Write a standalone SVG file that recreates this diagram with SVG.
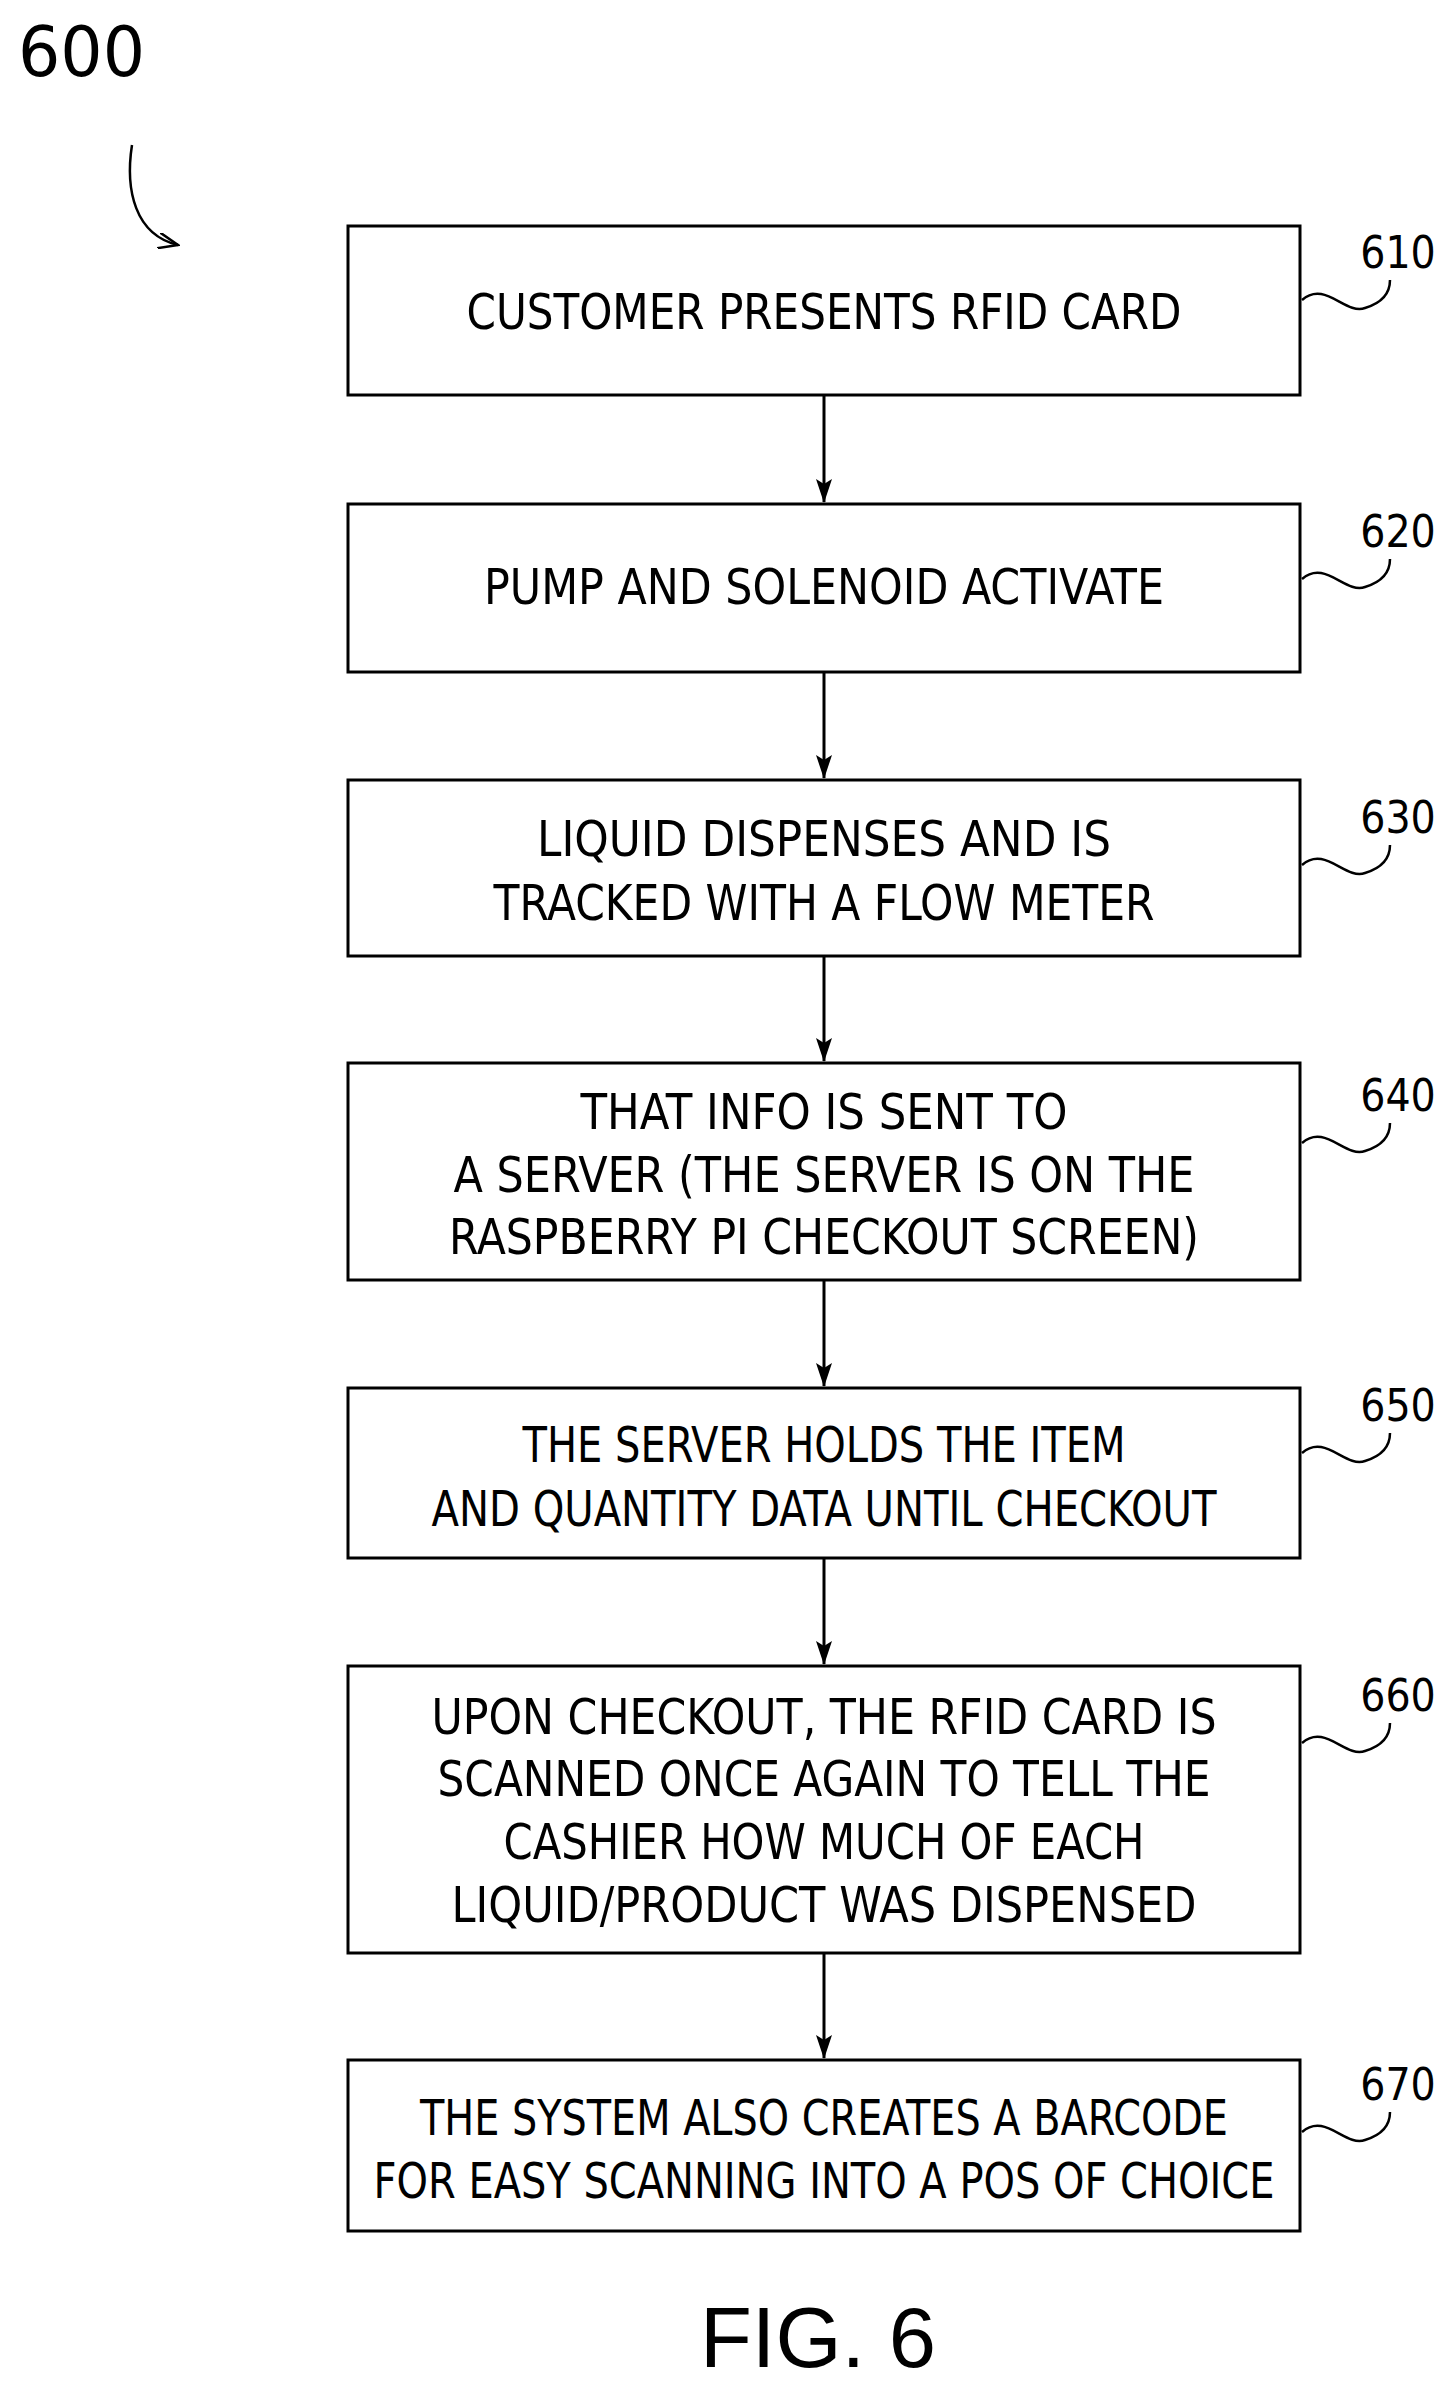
<svg xmlns="http://www.w3.org/2000/svg" width="1451" height="2390" viewBox="0 0 1451 2390">
<style>
.box{fill:#fff;stroke:#000;stroke-width:3}
.t{font-family:"DejaVu Sans",sans-serif;font-stretch:condensed;font-size:50px;text-anchor:middle;fill:#000}
.lab{font-family:"DejaVu Sans",sans-serif;font-stretch:condensed;font-size:44px;text-anchor:middle;fill:#000}
.sq{fill:none;stroke:#000;stroke-width:2.5}
.c{stroke:#000;stroke-width:3;fill:none;marker-end:url(#ah)}
</style>
<defs><marker id="ah" markerWidth="24" markerHeight="16" refX="23" refY="8" orient="auto" markerUnits="userSpaceOnUse" viewBox="0 0 24 16"><path d="M0,0 L24,8 L0,16 L5,8 Z" fill="#000"/></marker>
<marker id="ah2" markerWidth="22" markerHeight="16" refX="20" refY="8" orient="auto" markerUnits="userSpaceOnUse"><path d="M0,0 L20,8 L0,16" fill="none" stroke="#000" stroke-width="2.5"/></marker></defs>
<rect width="1451" height="2390" fill="#fff"/>
<g id="title"><text x="18" y="76" font-family="DejaVu Sans,sans-serif" font-stretch="condensed" font-size="70" textLength="127" lengthAdjust="spacingAndGlyphs">600</text>
<path d="M132,145 C125,190 135,235 178,245" fill="none" stroke="#000" stroke-width="2.5" marker-end="url(#ah2)"/></g>
<g id="connectors">
<line class="c" x1="824" y1="395" x2="824" y2="502"/>
<line class="c" x1="824" y1="672" x2="824" y2="778"/>
<line class="c" x1="824" y1="956" x2="824" y2="1061"/>
<line class="c" x1="824" y1="1280" x2="824" y2="1386"/>
<line class="c" x1="824" y1="1558" x2="824" y2="1664"/>
<line class="c" x1="824" y1="1953" x2="824" y2="2058"/>
</g>
<g id="n610"><rect class="box" x="348" y="226" width="952" height="169"/><text class="t" x="824" y="329" textLength="715" lengthAdjust="spacingAndGlyphs">CUSTOMER PRESENTS RFID CARD</text><text class="lab" x="1398" y="268">610</text><path class="sq" d="M1302,300 C1325,280 1345,315 1365,308 C1385,302 1390,290 1390,280"/></g>
<g id="n620"><rect class="box" x="348" y="504" width="952" height="168"/><text class="t" x="824" y="604" textLength="680" lengthAdjust="spacingAndGlyphs">PUMP AND SOLENOID ACTIVATE</text><text class="lab" x="1398" y="547">620</text><path class="sq" d="M1302,579 C1325,559 1345,594 1365,587 C1385,581 1390,569 1390,559"/></g>
<g id="n630"><rect class="box" x="348" y="780" width="952" height="176"/><text class="t" x="824" y="856" textLength="574" lengthAdjust="spacingAndGlyphs">LIQUID DISPENSES AND IS</text><text class="t" x="824" y="920" textLength="661" lengthAdjust="spacingAndGlyphs">TRACKED WITH A FLOW METER</text><text class="lab" x="1398" y="833">630</text><path class="sq" d="M1302,865 C1325,845 1345,880 1365,873 C1385,867 1390,855 1390,845"/></g>
<g id="n640"><rect class="box" x="348" y="1063" width="952" height="217"/><text class="t" x="824" y="1129" textLength="487" lengthAdjust="spacingAndGlyphs">THAT INFO IS SENT TO</text><text class="t" x="824" y="1192" textLength="741" lengthAdjust="spacingAndGlyphs">A SERVER (THE SERVER IS ON THE</text><text class="t" x="824" y="1254" textLength="750" lengthAdjust="spacingAndGlyphs">RASPBERRY PI CHECKOUT SCREEN)</text><text class="lab" x="1398" y="1111">640</text><path class="sq" d="M1302,1143 C1325,1123 1345,1158 1365,1151 C1385,1145 1390,1133 1390,1123"/></g>
<g id="n650"><rect class="box" x="348" y="1388" width="952" height="170"/><text class="t" x="824" y="1462" textLength="603" lengthAdjust="spacingAndGlyphs">THE SERVER HOLDS THE ITEM</text><text class="t" x="824" y="1526" textLength="785" lengthAdjust="spacingAndGlyphs">AND QUANTITY DATA UNTIL CHECKOUT</text><text class="lab" x="1398" y="1421">650</text><path class="sq" d="M1302,1453 C1325,1433 1345,1468 1365,1461 C1385,1455 1390,1443 1390,1433"/></g>
<g id="n660"><rect class="box" x="348" y="1666" width="952" height="287"/><text class="t" x="824" y="1734" textLength="785" lengthAdjust="spacingAndGlyphs">UPON CHECKOUT, THE RFID CARD IS</text><text class="t" x="824" y="1796" textLength="773" lengthAdjust="spacingAndGlyphs">SCANNED ONCE AGAIN TO TELL THE</text><text class="t" x="824" y="1859" textLength="641" lengthAdjust="spacingAndGlyphs">CASHIER HOW MUCH OF EACH</text><text class="t" x="824" y="1922" textLength="745" lengthAdjust="spacingAndGlyphs">LIQUID/PRODUCT WAS DISPENSED</text><text class="lab" x="1398" y="1711">660</text><path class="sq" d="M1302,1743 C1325,1723 1345,1758 1365,1751 C1385,1745 1390,1733 1390,1723"/></g>
<g id="n670"><rect class="box" x="348" y="2060" width="952" height="171"/><text class="t" x="824" y="2135" textLength="808" lengthAdjust="spacingAndGlyphs">THE SYSTEM ALSO CREATES A BARCODE</text><text class="t" x="824" y="2198" textLength="901" lengthAdjust="spacingAndGlyphs">FOR EASY SCANNING INTO A POS OF CHOICE</text><text class="lab" x="1398" y="2100">670</text><path class="sq" d="M1302,2132 C1325,2112 1345,2147 1365,2140 C1385,2134 1390,2122 1390,2112"/></g>
<g id="fig"><text x="818" y="2367" font-family="Liberation Sans,Arial,sans-serif" font-size="85" text-anchor="middle">FIG. 6</text></g>
</svg>
